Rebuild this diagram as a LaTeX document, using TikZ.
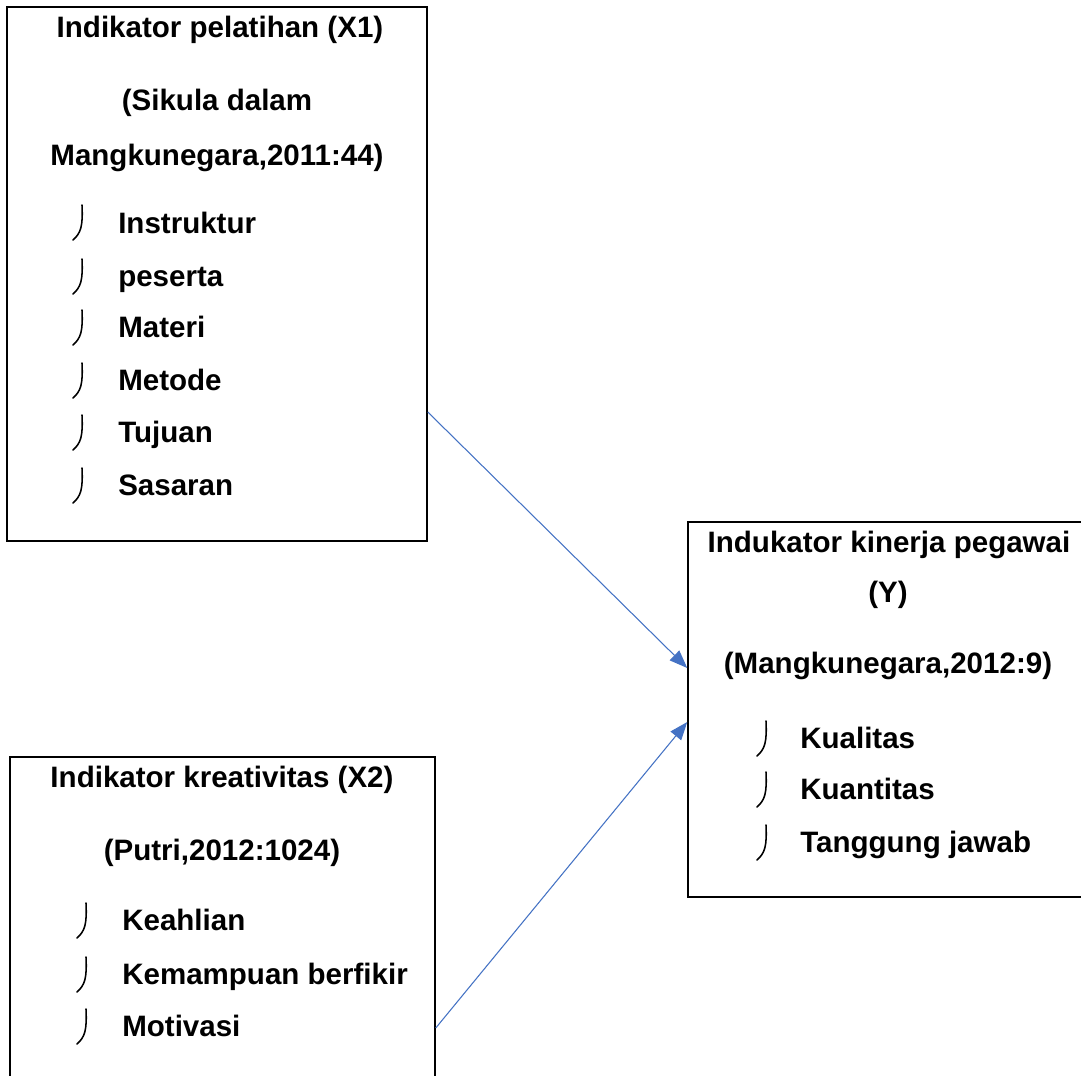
\documentclass[tikz,border=0pt]{standalone}
\usepackage{fontspec}
\setmainfont{Liberation Sans}
\usepackage{tikz}
\usetikzlibrary{arrows.meta,calc}

\tikzset{
  box/.style={draw=black, line width=1pt, inner sep=0pt},
  head/.style={font=\fontsize{21}{25}\selectfont\bfseries, anchor=center, text height=15pt, text depth=0pt, inner sep=0pt},
  item/.style={font=\fontsize{21}{25}\selectfont\bfseries, anchor=west, text height=15pt, text depth=0pt, inner sep=0pt},
  link/.style={draw={rgb,255:red,68;green,114;blue,196}, line width=0.75pt,
    -{Triangle[length=0.45cm,width=0.34cm]}},
  itemmark/.pic={\draw[line width=1.1pt, line cap=round] (2,-17) .. controls (3,4) and (1,11) .. (-7,18);}
}

\begin{document}
\begin{tikzpicture}[x=0.025cm, y=-0.025cm]
\useasboundingbox (0,0) rectangle (1081,1076);
\fill[white] (0,0) rectangle (1081,1076);
\clip (0,0) rectangle (1081,1076);

% boxes
\node[box, minimum width=10.5cm, minimum height=13.35cm] (x1) at (217,274) {};
\node[box, minimum width=10.625cm, minimum height=8.575cm] (x2) at (222.5,928.5) {};
\node[box, minimum width=10.3cm, minimum height=9.375cm] (y) at (894,709.5) {};

% pelatihan
\node[head] (h1a) at (220,27) {Indikator pelatihan (X1)};
\node[head] (h1b) at (217,100) {(Sikula dalam};
\node[head] (h1c) at (217,155) {Mangkunegara,2011:44)};
\node[item] (ins) at (118,223) {Instruktur};
\node[item] (pes) at (118,276) {peserta};
\node[item] (mat) at (118,327) {Materi};
\node[item] (met) at (118,380) {Metode};
\node[item] (tuj) at (118,432) {Tujuan};
\node[item] (sas) at (118,485) {Sasaran};
\pic at (80,222) {itemmark};
\pic at (80,276) {itemmark};
\pic at (80,327) {itemmark};
\pic at (80,380) {itemmark};
\pic at (80,432) {itemmark};
\pic at (80,485) {itemmark};

% kreativitas
\node[head] (h2a) at (222,777) {Indikator kreativitas (X2)};
\node[head] (h2b) at (222,850) {(Putri,2012:1024)};
\node[item] (kea) at (122,920) {Keahlian};
\node[item] (kem) at (122,974) {Kemampuan berfikir};
\node[item] (mot) at (122,1026) {Motivasi};
\pic at (84,920) {itemmark};
\pic at (84,974) {itemmark};
\pic at (84,1026) {itemmark};

% kinerja
\node[head] (h3a) at (889,542) {Indukator kinerja pegawai};
\node[head] (h3b) at (888,592) {(Y)};
\node[head] (h3c) at (888,663) {(Mangkunegara,2012:9)};
\node[item] (kual) at (800,738) {Kualitas};
\node[item] (kuan) at (800,789) {Kuantitas};
\node[item] (tgj) at (800,842) {Tanggung jawab};
\pic at (764,738) {itemmark};
\pic at (764,789) {itemmark};
\pic at (764,842) {itemmark};

% arrows
\coordinate (s1) at (x1.east |- 0,412);
\coordinate (e1) at (y.west |- 0,668);
\coordinate (s2) at (x2.east |- 0,1028);
\coordinate (e2) at (y.west |- 0,722);
\draw[link] (s1) -- (e1);
\draw[link] (s2) -- (e2);
\end{tikzpicture}
\end{document}
